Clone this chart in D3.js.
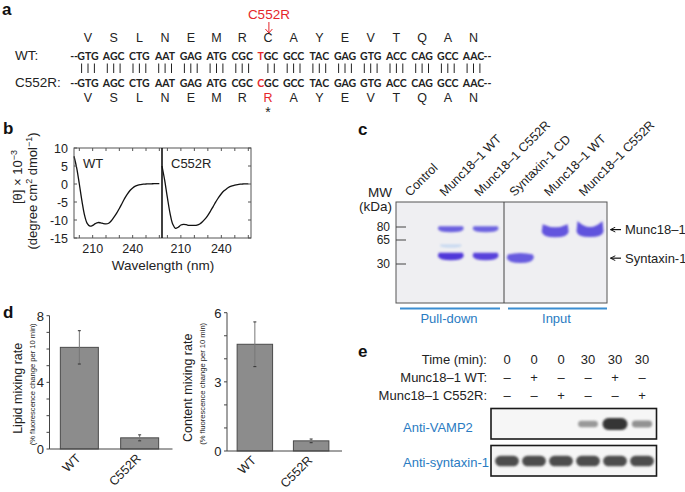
<!DOCTYPE html>
<html><head><meta charset="utf-8">
<script src="https://cdn.jsdelivr.net/npm/d3@7"></script>
<style>body{margin:0;background:#fff} text{font-family:"Liberation Sans",Arial,sans-serif;fill:#222}</style>
</head><body><svg id="fig" width="685" height="492"></svg>
<script>
// ---------- DATA ----------
// panel a
const aminoWT  = ["V","S","L","N","E","M","R","C","A","Y","E","V","T","Q","A","N"];
const aminoMut = ["V","S","L","N","E","M","R","R","A","Y","E","V","T","Q","A","N"];
const codonsWT  = ["GTG","AGC","CTG","AAT","GAG","ATG","CGC","TGC","GCC","TAC","GAG","GTG","ACC","CAG","GCC","AAC"];
const codonsMut = ["GTG","AGC","CTG","AAT","GAG","ATG","CGC","CGC","GCC","TAC","GAG","GTG","ACC","CAG","GCC","AAC"];
const mutationName = "C552R";
// panel b
const cdWavelength = [196,198,200,202,204,206,208,210,212,214,216,218,220,222,224,226,228,230,232,234,236,238,240,242,244,246,248,250,252,254,256,258,260];
const cdWT    = [7.7,4.5,0.0,-4.8,-8.8,-11.0,-11.7,-11.5,-11.0,-10.7,-10.8,-11.0,-11.1,-10.9,-10.2,-9.2,-8.1,-6.8,-5.4,-4.0,-2.8,-1.8,-1.1,-0.6,-0.3,-0.15,-0.05,0,0.05,0.05,0.1,0.1,0.1];
const cdC552R = [5.0,1.0,-3.8,-8.2,-11.2,-12.3,-12.0,-11.4,-11.2,-11.3,-11.5,-11.5,-11.5,-11.4,-11.1,-10.5,-9.7,-8.7,-7.5,-6.2,-4.9,-3.7,-2.7,-1.9,-1.3,-0.8,-0.5,-0.3,-0.15,-0.05,0,0.05,0.05];
const cdPanels = ["WT","C552R"];
const cdYTicks = [10,5,0,-5,-10,-15];
const cdXTicks = [210,240];
// panel c
const gelLanes = ["Control","Munc18\u20131 WT","Munc18\u20131 C552R","Syntaxin-1 CD","Munc18\u20131 WT","Munc18\u20131 C552R"];
const mwMarkers = [80,65,30];
const gelBands = [
  {lane:1,kDa:78,amount:0.72},{lane:1,kDa:57,amount:0.1},{lane:1,kDa:41.5,amount:0.95},
  {lane:2,kDa:78,amount:0.7},{lane:2,kDa:41.5,amount:0.88},
  {lane:3,kDa:39.5,amount:0.75},
  {lane:4,kDa:74.6,amount:0.78},{lane:5,kDa:74.8,amount:0.8}
];
const gelGroups = ["Pull-down","Input"];
const bandLabels = [{name:"Munc18\u20131",kDa:77},{name:"Syntaxin-1",kDa:38.5}];
// panel d
const mixCategories = ["WT","C552R"];
const lipidRate = [6.1,0.67];
const lipidErr  = [1.0,0.18];
const contentRate = [4.63,0.44];
const contentErr  = [0.97,0.08];
// panel e
const timeRow = ["0","0","0","30","30","30"];
const wtRow   = ["\u2013","+","\u2013","\u2013","+","\u2013"];
const mutRow  = ["\u2013","\u2013","+","\u2013","\u2013","+"];
const vamp2Signal = [0,0,0,0.35,1,0.4];
const syntaxinSignal = [0.85,0.85,0.85,0.85,0.85,0.85];

// ---------- DRAW ----------
const svg = d3.select("#fig");
const RED = "#e5262b", BLUE = "#2a7bc2";
const defs = svg.append("defs");
defs.append("filter").attr("id","soft").attr("x","-20%").attr("y","-50%").attr("width","140%").attr("height","200%")
  .append("feGaussianBlur").attr("stdDeviation",0.8);
defs.append("marker").attr("id","arrowL").attr("viewBox","0 0 10 10").attr("refX",1).attr("refY",5)
  .attr("markerWidth",6).attr("markerHeight",6).attr("orient","auto").attr("markerUnits","userSpaceOnUse")
  .append("path").attr("d","M9,1 L1,5 L9,9").attr("fill","none").attr("stroke","#111").attr("stroke-width",1.6);

function letter(x,y,s){ svg.append("text").attr("x",x).attr("y",y).attr("font-weight","bold").attr("font-size",17).style("fill","#111").text(s); }

// ===== Panel a =====
letter(2,15,"a");
const ga = svg.append("g");
const xa = d3.scalePoint().domain(d3.range(aminoWT.length)).range([88,473.5]);
const mism = aminoWT.map((d,i)=>codonsWT[i]!==codonsMut[i]);
ga.selectAll(null).data(aminoWT).join("text").attr("x",(d,i)=>xa(i)).attr("y",41.5)
  .attr("text-anchor","middle").attr("font-size",12.5).text(d=>d);
ga.selectAll(null).data(aminoMut).join("text").attr("x",(d,i)=>xa(i)).attr("y",101.5)
  .attr("text-anchor","middle").attr("font-size",12.5).style("fill",(d,i)=>d!==aminoWT[i]?RED:"#222").text(d=>d);
function codonRow(codons, other, y){
  ga.selectAll(null).data(codons).join("text").attr("x",(d,i)=>xa(i)).attr("y",y)
    .attr("text-anchor","middle").attr("font-size",10.5).attr("font-weight",700).style("font-family","Lato, sans-serif")
    .each(function(d,i){ const el=d3.select(this); d.split("").forEach((ch,k)=>{ el.append("tspan").style("fill", ch!==other[i][k]?RED:"#222").text(ch); }); });
  ga.append("text").attr("x",xa(0)-10).attr("y",y).attr("text-anchor","end").attr("font-size",10.5).attr("font-weight",700).style("font-family","Lato, sans-serif").text("--");
  ga.append("text").attr("x",xa(codons.length-1)+10).attr("y",y).attr("font-size",10.5).attr("font-weight",700).style("font-family","Lato, sans-serif").text("--");
}
codonRow(codonsWT,codonsMut,59.5);
codonRow(codonsMut,codonsWT,86.5);
codonsWT.forEach((c,i)=>{ for(let k=0;k<3;k++){ if(c[k]===codonsMut[i][k]){
  ga.append("line").attr("x1",xa(i)+(k-1)*6.4).attr("x2",xa(i)+(k-1)*6.4).attr("y1",63.5).attr("y2",73).attr("stroke","#222").attr("stroke-width",1); } } });
ga.append("text").attr("x",15).attr("y",60).attr("font-size",13.5).text("WT:");
ga.append("text").attr("x",15).attr("y",87).attr("font-size",13.5).text("C552R:");
const mi = mism.indexOf(true);
ga.append("text").attr("x",xa(mi)+1).attr("y",19).attr("text-anchor","middle").attr("font-size",13.5).style("fill",RED).text(mutationName);
ga.append("line").attr("x1",xa(mi)+1).attr("x2",xa(mi)+1).attr("y1",22).attr("y2",33).attr("stroke",RED).attr("stroke-width",1);
ga.append("path").attr("d",`M${xa(mi)-2.5},29 L${xa(mi)+1},33 L${xa(mi)+4.5},29`).attr("fill","none").attr("stroke",RED).attr("stroke-width",1);
ga.append("text").attr("x",xa(mi)).attr("y",117).attr("text-anchor","middle").attr("font-size",14).text("*");

// ===== Panel b =====
letter(3,134,"b");
const gb = svg.append("g");
const yb = d3.scaleLinear().domain([-15,10]).range([238,148]);
const xbs = [d3.scaleLinear().domain([196,262]).range([74,162]), d3.scaleLinear().domain([196,262]).range([162,251])];
const cdSeries = [cdWT,cdC552R];
xbs.forEach((xs,p)=>{
  const [x0,x1] = xs.range();
  [200,210,220,230,240,250,260].forEach(t=>{ const x=xs(t); if(x>x0+1 && x<x1-1){
    gb.append("line").attr("x1",x).attr("x2",x).attr("y1",238).attr("y2",235).attr("stroke","#555");
    gb.append("line").attr("x1",x).attr("x2",x).attr("y1",148).attr("y2",151).attr("stroke","#555"); } });
  cdXTicks.forEach(t=>gb.append("text").attr("x",xs(t)).attr("y",253).attr("text-anchor","middle").attr("font-size",12.5).text(t));
  const line = d3.line().x((d,i)=>xs(cdWavelength[i])).y(d=>yb(d)).curve(d3.curveCatmullRom);
  gb.append("path").attr("d",line(cdSeries[p])).attr("fill","none").attr("stroke","#111").attr("stroke-width",1.3);
  gb.append("text").attr("x",x0+9).attr("y",168).attr("font-size",13).text(cdPanels[p]);
});
cdYTicks.forEach(t=>{
  gb.append("line").attr("x1",74).attr("x2",77).attr("y1",yb(t)).attr("y2",yb(t)).attr("stroke","#555");
  gb.append("line").attr("x1",251).attr("x2",248).attr("y1",yb(t)).attr("y2",yb(t)).attr("stroke","#555");
  gb.append("text").attr("x",68).attr("y",yb(t)+4.5).attr("text-anchor","end").attr("font-size",12.5).text(t);
});
gb.append("rect").attr("x",74).attr("y",148).attr("width",177).attr("height",90).attr("fill","none").attr("stroke","#555").attr("stroke-width",1);
gb.append("line").attr("x1",162).attr("x2",162).attr("y1",148).attr("y2",238).attr("stroke","#111").attr("stroke-width",1.6);
const t1 = gb.append("text").attr("transform","translate(22,177) rotate(-90)").attr("text-anchor","middle").attr("font-size",13);
t1.append("tspan").text("[\u03b8] \u00d7 10");
t1.append("tspan").attr("dy",-5).attr("font-size",9).text("\u22123");
const t2 = gb.append("text").attr("transform","translate(37,191) rotate(-90)").attr("text-anchor","middle").attr("font-size",13);
t2.append("tspan").text("(degree cm");
t2.append("tspan").attr("dy",-5).attr("font-size",9).text("2");
t2.append("tspan").attr("dy",5).text(" dmol");
t2.append("tspan").attr("dy",-5).attr("font-size",9).text("\u22121");
t2.append("tspan").attr("dy",5).text(")");
gb.append("text").attr("x",163).attr("y",270).attr("text-anchor","middle").attr("font-size",13.5).text("Wavelength (nm)");

// ===== Panel c =====
letter(358,135,"c");
const gc = svg.append("g");
const xl = d3.scalePoint().domain(d3.range(gelLanes.length)).range([416,590]);
const ymw = d3.scaleLinear().domain([30,65,80]).range([264,240,227]);
gc.append("rect").attr("x",396).attr("y",202).attr("width",211).attr("height",101).attr("fill","#efeff2").attr("stroke","#555").attr("stroke-width",1);
gc.append("line").attr("x1",504).attr("x2",504).attr("y1",202).attr("y2",303).attr("stroke","#444").attr("stroke-width",1);
mwMarkers.forEach(m=>{
  gc.append("line").attr("x1",396).attr("x2",406).attr("y1",ymw(m)).attr("y2",ymw(m)).attr("stroke","#444").attr("stroke-width",1);
  gc.append("text").attr("x",390).attr("y",ymw(m)+4).attr("text-anchor","end").attr("font-size",12).text(m);
});
gc.append("text").attr("x",392).attr("y",197).attr("text-anchor","end").attr("font-size",13.5).text("MW");
gc.append("text").attr("x",392).attr("y",211).attr("text-anchor","end").attr("font-size",13.5).text("(kDa)");
const bandColor = d3.interpolateRgb("#bfe0f2","#4a2ed8");
gelBands.forEach(b=>{
  const input = b.lane>=3, cx = xl(b.lane), cy = ymw(b.kDa);
  const w = b.amount<0.3 ? 20 : (input?25:24);
  const h = b.amount<0.3 ? 2 : (input?9:(b.kDa>60?5:6.5));
  const lift = input && b.kDa>60 ? (b.lane===5?6:3) : (input?-1.5:0);
  const x0=cx-w/2, x1=cx+w/2, yt=cy-h/2, yb2=cy+h/2;
  const d = `M${x0},${yt-lift} Q${cx},${yt+lift} ${x1},${yt-lift} L${x1+1},${cy} Q${x1},${yb2+1} ${cx},${yb2+1} Q${x0},${yb2+1} ${x0-1},${cy} Z`;
  gc.append("path").attr("d",d).attr("fill",bandColor(b.amount)).attr("opacity",b.amount<0.3?0.7:1).attr("filter","url(#soft)");
});
gc.selectAll(null).data(gelLanes).join("text")
  .attr("transform",(d,i)=>`translate(${xl(i)-6},197) rotate(-45)`).attr("font-size",12.5).text(d=>d);
bandLabels.forEach(b=>{
  const y = ymw(b.kDa);
  gc.append("line").attr("x1",610.5).attr("x2",621).attr("y1",y).attr("y2",y).attr("stroke","#111").attr("stroke-width",1.2).attr("marker-start","url(#arrowL)");
  gc.append("text").attr("x",625).attr("y",y+4.5).attr("font-size",13).text(b.name);
});
[[400,500],[508,607]].forEach((r,i)=>{
  gc.append("line").attr("x1",r[0]).attr("x2",r[1]).attr("y1",308.5).attr("y2",308.5).attr("stroke","#3a8ed2").attr("stroke-width",2.2);
  gc.append("text").attr("x",(r[0]+r[1])/2-1).attr("y",323).attr("text-anchor","middle").attr("font-size",13).style("fill",BLUE).text(gelGroups[i]);
});

// ===== Panel d =====
letter(3,318,"d");
function barChart(cfg){
  const g = svg.append("g");
  const y = d3.scaleLinear().domain([0,cfg.max]).range([cfg.y0,cfg.y1]);
  const x = d3.scaleBand().domain(mixCategories).range([cfg.ax, cfg.ax+cfg.w]).paddingInner(0.37).paddingOuter(0.18);
  g.append("line").attr("x1",cfg.ax).attr("x2",cfg.ax).attr("y1",cfg.y0).attr("y2",cfg.y1).attr("stroke","#444");
  d3.range(0,cfg.max+1).forEach(t=>{
    g.append("line").attr("x1",cfg.ax-3).attr("x2",cfg.ax).attr("y1",y(t)).attr("y2",y(t)).attr("stroke","#444");
  });
  cfg.labels.forEach(t=>g.append("text").attr("x",cfg.ax-5.5).attr("y",y(t)+5).attr("text-anchor","end").attr("font-size",13).text(t));
  g.selectAll(null).data(cfg.vals).join("rect").attr("x",(d,i)=>x(mixCategories[i])).attr("width",x.bandwidth())
    .attr("y",d=>y(d)).attr("height",d=>cfg.y0-y(d)).attr("fill","#8c8c8c").attr("stroke","#4a4a4a").attr("stroke-width",1);
  g.append("line").attr("x1",cfg.ax).attr("x2",cfg.ax+cfg.w+3).attr("y1",cfg.y0).attr("y2",cfg.y0).attr("stroke","#444");
  cfg.vals.forEach((v,i)=>{
    const cx = x(mixCategories[i])+x.bandwidth()/2, e=cfg.errs[i];
    g.append("line").attr("x1",cx).attr("x2",cx).attr("y1",y(v+e)).attr("y2",y(v-e)).attr("stroke","#777").attr("stroke-width",1);
    [v+e,v-e].forEach(z=>g.append("line").attr("x1",cx-1.5).attr("x2",cx+1.5).attr("y1",y(z)).attr("y2",y(z)).attr("stroke","#333").attr("stroke-width",1));
    g.append("text").attr("transform",`translate(${cx+2},${cfg.y0+10}) rotate(-45)`).attr("text-anchor","end").attr("font-size",12.5).text(mixCategories[i]);
  });
  const cy = (cfg.y0+cfg.y1)/2+6;
  g.append("text").attr("transform",`translate(${cfg.tx},${cy}) rotate(-90)`).attr("text-anchor","middle").attr("font-size",12.5).text(cfg.title);
  g.append("text").attr("transform",`translate(${cfg.tx+13},${cy-4}) rotate(-90)`).attr("text-anchor","middle").attr("font-size",7.6).text("(% fluorescence change per 10 min)");
}
barChart({ax:49.5,w:120,y0:449,y1:315.7,max:8,labels:[0,4,8],vals:lipidRate,errs:lipidErr,title:"Lipid mixing rate",tx:22});
barChart({ax:227,w:112,y0:451,y1:312.7,max:6,labels:[0,3,6],vals:contentRate,errs:contentErr,title:"Content mixing rate",tx:192});

// ===== Panel e =====
letter(358,357,"e");
const ge = svg.append("g");
const xe = d3.scalePoint().domain(d3.range(timeRow.length)).range([507,642]);
[["Time (min):",timeRow,363.5],["Munc18\u20131 WT:",wtRow,382],["Munc18\u20131 C552R:",mutRow,400]].forEach(r=>{
  ge.append("text").attr("x",487).attr("y",r[2]).attr("text-anchor","end").attr("font-size",13).text(r[0]);
  ge.selectAll(null).data(r[1]).join("text").attr("x",(d,i)=>xe(i)).attr("y",r[2]).attr("text-anchor","middle").attr("font-size",13).text(d=>d);
});
const blotColor = d3.interpolateRgb("#cfcfcf","#363636");
[[vamp2Signal,408.5,"Anti-VAMP2",432],[syntaxinSignal,445.5,"Anti-syntaxin-1",467]].forEach(bl=>{
  const [sig,top,lab,ly] = bl;
  ge.append("rect").attr("x",491).attr("y",top).attr("width",165.5).attr("height",30.5).attr("fill","#f6f6f6").attr("stroke","#1a1a1a").attr("stroke-width",1.6);
  sig.forEach((s,i)=>{ if(s>0){
    const w = 17+8*s, h = 3.5+8.5*s;
    ge.append("rect").attr("x",xe(i)-w/2).attr("y",top+15.5-h/2).attr("width",w).attr("height",h).attr("rx",h/2)
      .attr("fill",blotColor(s)).attr("filter","url(#soft)");
  }});
  ge.append("text").attr("x",403).attr("y",ly).attr("font-size",13).style("fill",BLUE).text(lab);
});
</script></body></html>
